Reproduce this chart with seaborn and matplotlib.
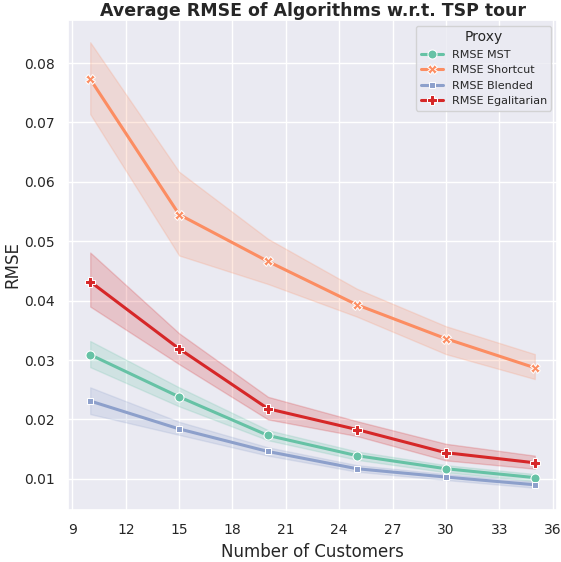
import numpy as np
import pandas as pd
import matplotlib
matplotlib.use("Agg")
import matplotlib.pyplot as plt
import seaborn as sns

customers = [10, 15, 20, 25, 30, 35]

rmse_mst = [0.0309, 0.0238, 0.0173, 0.0139, 0.0117, 0.0102]
rmse_mst_lo = [0.0288, 0.0222, 0.0165, 0.0132, 0.0111, 0.0096]
rmse_mst_hi = [0.0332, 0.0254, 0.0182, 0.0146, 0.0123, 0.0108]

rmse_shortcut = [0.0773, 0.0545, 0.0466, 0.0393, 0.0336, 0.0287]
rmse_shortcut_lo = [0.0714, 0.0476, 0.0428, 0.0373, 0.0310, 0.0268]
rmse_shortcut_hi = [0.0835, 0.0617, 0.0504, 0.0420, 0.0357, 0.0310]

rmse_blended = [0.0231, 0.0184, 0.0146, 0.0117, 0.0103, 0.0090]
rmse_blended_lo = [0.0209, 0.0174, 0.0139, 0.0112, 0.0098, 0.0085]
rmse_blended_hi = [0.0254, 0.0196, 0.0153, 0.0123, 0.0108, 0.0095]

rmse_egal = [0.0432, 0.0319, 0.0218, 0.0183, 0.0144, 0.0127]
rmse_egal_lo = [0.0390, 0.0293, 0.0200, 0.0172, 0.0131, 0.0117]
rmse_egal_hi = [0.0481, 0.0345, 0.0238, 0.0197, 0.0159, 0.0139]

names = ["RMSE MST", "RMSE Shortcut", "RMSE Blended", "RMSE Egalitarian"]
colors = ["#66c2a5", "#fc8d62", "#8da0cb", "#d62728"]

means = [rmse_mst, rmse_shortcut, rmse_blended, rmse_egal]
lows = [rmse_mst_lo, rmse_shortcut_lo, rmse_blended_lo, rmse_egal_lo]
highs = [rmse_mst_hi, rmse_shortcut_hi, rmse_blended_hi, rmse_egal_hi]

rows = []
for name, vals in zip(names, means):
    for c, v in zip(customers, vals):
        rows.append({"Number of Customers": c, "RMSE": v, "Proxy": name})
df = pd.DataFrame(rows)

sns.set_theme(style="darkgrid")

fig = plt.figure(figsize=(5.61, 5.62), dpi=100)
ax = fig.add_axes([68 / 561, 1 - 510 / 562, (557 - 68) / 561, (510 - 20) / 562])

for col, lo, hi in zip(colors, lows, highs):
    ax.fill_between(customers, lo, hi, color=col, alpha=0.2)

sns.lineplot(data=df, x="Number of Customers", y="RMSE", hue="Proxy", style="Proxy",
             markers=["o", "X", "s", "P"], dashes=False, palette=colors,
             linewidth=2.2, markersize=6.5, ax=ax)

# squares look smaller in the original
for ln in ax.lines:
    if ln.get_marker() == "s":
        ln.set_markersize(4.5)

ax.set_xticks(range(9, 37, 3))
ax.set_xlabel("Number of Customers", fontsize=12)
ax.set_ylabel("RMSE", fontsize=12, labelpad=2)
ax.tick_params(labelsize=10)
ax.set_title("Average RMSE of Algorithms w.r.t. TSP tour", fontsize=12.5,
             fontweight="bold", pad=3)
leg = ax.legend(title="Proxy", loc="upper right", fontsize=8, title_fontsize=10)
for h in leg.legend_handles:
    if h.get_marker() == "s":
        h.set_markersize(4.5)

fig.savefig("out.png", dpi=100)
